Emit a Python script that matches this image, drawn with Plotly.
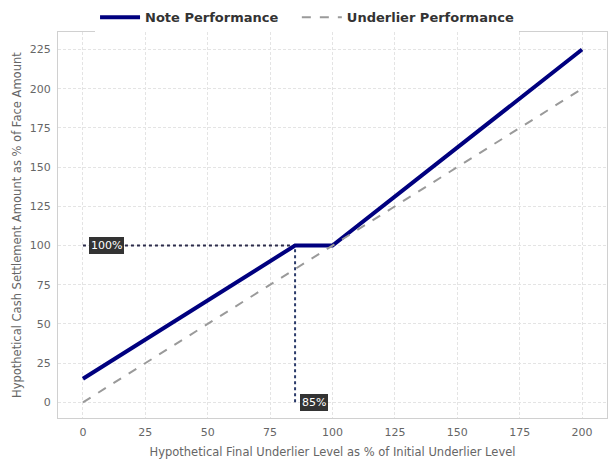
import plotly.graph_objects as go

x_note = [0, 85, 100, 200]
y_note = [15, 100, 100, 225]
x_under = [0, 200]
y_under = [0, 200]
barrier_x = [0, 85]
barrier_y_level = 100
barrier_level = 85
x_ticks = [0, 25, 50, 75, 100, 125, 150, 175, 200]
y_ticks = [0, 25, 50, 75, 100, 125, 150, 175, 200, 225]

fig = go.Figure()
fig.add_trace(go.Scatter(x=barrier_x, y=[barrier_y_level, barrier_y_level], mode="lines",
                         line=dict(color="#2b2b4a", width=2, dash="dot"), showlegend=False, hoverinfo="skip"))
fig.add_trace(go.Scatter(x=[barrier_level, barrier_level], y=[0, barrier_y_level], mode="lines",
                         line=dict(color="#2b3b6a", width=2, dash="dot"), showlegend=False, hoverinfo="skip"))
fig.add_trace(go.Scatter(x=x_note, y=y_note, mode="lines", name="Note Performance\u00a0\u00a0\u00a0",
                         line=dict(color="#00007f", width=4)))
fig.add_trace(go.Scatter(x=x_under, y=y_under, mode="lines", name="Underlier Performance",
                         line=dict(color="#9a9a9a", width=2, dash="dash")))

ann_font = dict(family="DejaVu Sans", size=11, color="white")
fig.add_annotation(x=0, y=barrier_y_level, text="100%", showarrow=False, xanchor="left", yanchor="middle",
                   xshift=6, bgcolor="#333333", bordercolor="#333333", borderpad=1, font=ann_font)
fig.add_annotation(x=barrier_level, y=0, text="85%", showarrow=False, xanchor="left", yanchor="middle",
                   xshift=5, bgcolor="#333333", bordercolor="#333333", borderpad=1, font=ann_font)

axis_common = dict(showgrid=True, gridcolor="#e4e4e4", griddash="3px,2px", gridwidth=1,
                   showline=True, linecolor="#d0d0d0", linewidth=1, mirror=True,
                   zeroline=False, ticks="", automargin=False,
                   tickfont=dict(size=11, color="#666666"))
fig.update_xaxes(range=[-10, 210], tickvals=x_ticks, ticklabelstandoff=4,
                 title=dict(text="Hypothetical Final Underlier Level as % of Initial Underlier Level",
                            font=dict(size=11.5, color="#666666"), standoff=9), **axis_common)
fig.update_yaxes(range=[-10, 236], tickvals=y_ticks, ticklabelstandoff=4,
                 title=dict(text="Hypothetical Cash Settlement Amount as % of Face Amount",
                            font=dict(size=11.5, color="#666666"), standoff=5), **axis_common)

fig.update_layout(
    width=608, height=467,
    margin=dict(l=58, r=1, t=30, b=49),
    plot_bgcolor="white", paper_bgcolor="white",
    font=dict(family="DejaVu Sans", color="#333333"),
    legend=dict(orientation="h", xref="container", yref="container", x=0.505, xanchor="center",
                y=0.963, yanchor="middle",
                font=dict(size=13, color="#333333", weight="bold"), itemwidth=40),
)

fig.write_html("out.html", config={"displayModeBar": False},
               post_script="document.body.style.margin='0';document.body.style.overflow='hidden';")
